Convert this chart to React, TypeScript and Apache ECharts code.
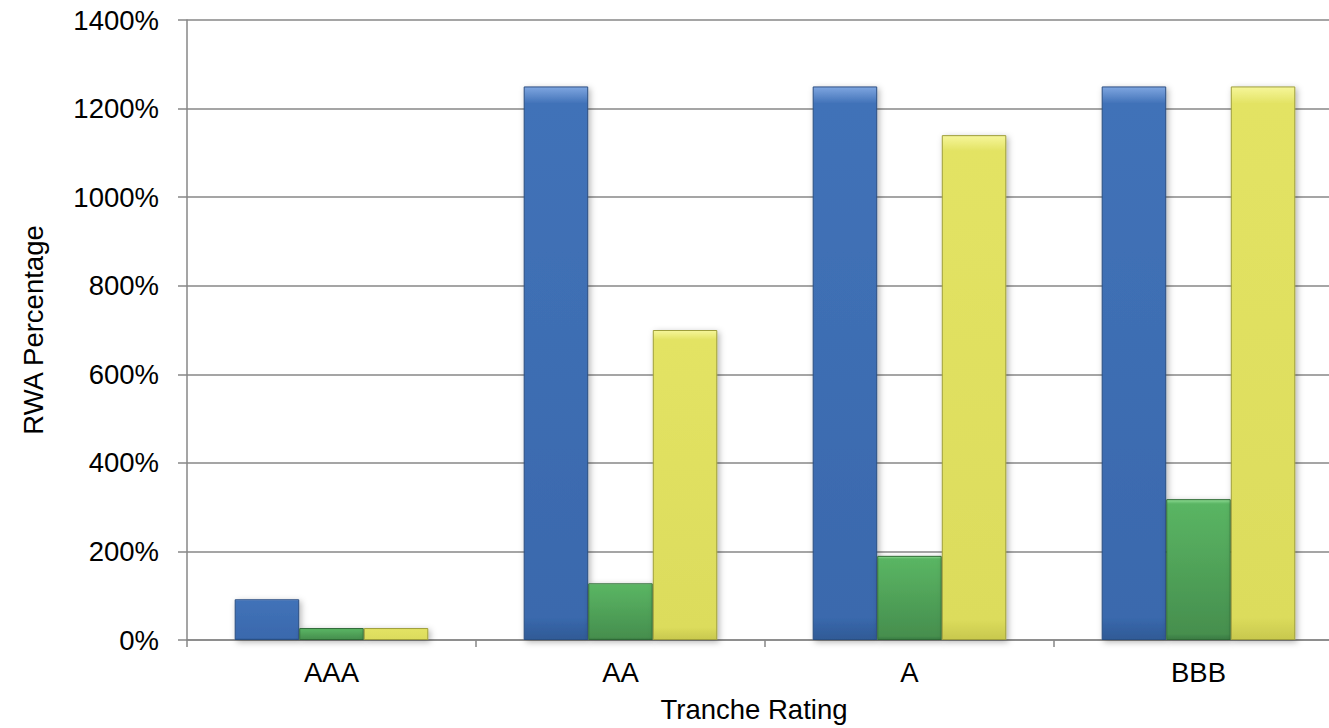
import React, { useEffect, useRef } from "react";
import * as echarts from "echarts";

const categories = ["AAA", "AA", "A", "BBB"];
const seriesBlue = [92, 1250, 1250, 1250];
const seriesGreen = [27, 128, 190, 318];
const seriesYellow = [27, 700, 1140, 1250];
const yTicks = { min: 0, max: 1400, interval: 200 };

const FONT = "'Liberation Sans', Arial, sans-serif";

function bevel(light: string, top: string, bottom: string, dark: string) {
  return new echarts.graphic.LinearGradient(0, 0, 0, 1, [
    { offset: 0, color: light },
    { offset: 0.03, color: top },
    { offset: 0.96, color: bottom },
    { offset: 1, color: dark },
  ]);
}

export default function App() {
  const ref = useRef<HTMLDivElement>(null);
  useEffect(() => {
    if (!ref.current) return;
    const chart = echarts.init(ref.current, null, { renderer: "svg" });
    const shadow = {
      shadowBlur: 6,
      shadowColor: "rgba(0,0,0,0.3)",
      shadowOffsetX: 2,
      shadowOffsetY: 2,
    };
    const mk = (
      name: string,
      data: number[],
      light: string,
      top: string,
      bottom: string,
      dark: string,
      border: string
    ) => ({
      name,
      type: "bar",
      data,
      barGap: "0%",
      barCategoryGap: "33%",
      itemStyle: {
        color: bevel(light, top, bottom, dark),
        borderColor: border,
        borderWidth: 1,
        ...shadow,
      },
    });
    chart.setOption({
      animation: false,
      backgroundColor: "#ffffff",
      grid: { left: 187, top: 20, bottom: 85.5, right: 0, containLabel: false },
      xAxis: {
        type: "category",
        data: categories,
        name: "Tranche Rating",
        nameLocation: "middle",
        nameGap: 55,
        nameTextStyle: { fontFamily: FONT, fontSize: 27.5, color: "#000", padding: [0, 22, 0, 0] },
        axisLine: { lineStyle: { color: "#878787", width: 1.5 } },
        axisTick: { show: true, length: 7, lineStyle: { color: "#878787", width: 1.5 } },
        axisLabel: { fontFamily: FONT, fontSize: 27.5, color: "#000", margin: 18 },
      },
      yAxis: {
        type: "value",
        min: yTicks.min,
        max: yTicks.max,
        interval: yTicks.interval,
        name: "RWA Percentage",
        nameLocation: "middle",
        nameGap: 140,
        nameTextStyle: { fontFamily: FONT, fontSize: 27.5, color: "#000" },
        axisLine: { show: true, lineStyle: { color: "#878787", width: 1.5 } },
        axisTick: { show: true, length: 9, lineStyle: { color: "#878787", width: 1.5 } },
        axisLabel: {
          fontFamily: FONT,
          fontSize: 27.5,
          color: "#000",
          margin: 28,
          formatter: (v: number) => `${v}%`,
        },
        splitLine: { show: true, lineStyle: { color: "#878787", width: 1.5 } },
      },
      series: [
        mk("Series 1", seriesBlue, "#7FA6E0", "#4172B8", "#3A69AD", "#2F5A96", "#2C4F82"),
        mk("Series 2", seriesGreen, "#8EDB93", "#5AB563", "#468F4E", "#3A7A42", "#2F6B36"),
        mk("Series 3", seriesYellow, "#F6F69A", "#E3E364", "#DCDC5C", "#C8C84E", "#9E9E3A"),
      ],
    });
    return () => chart.dispose();
  }, []);
  return (
    <div
      style={{
        position: "fixed",
        left: 0,
        top: 0,
        width: 1329,
        height: 728,
        overflow: "hidden",
        background: "#fff",
      }}
    >
      <div ref={ref} style={{ width: 1343, height: 728 }} />
    </div>
  );
}
